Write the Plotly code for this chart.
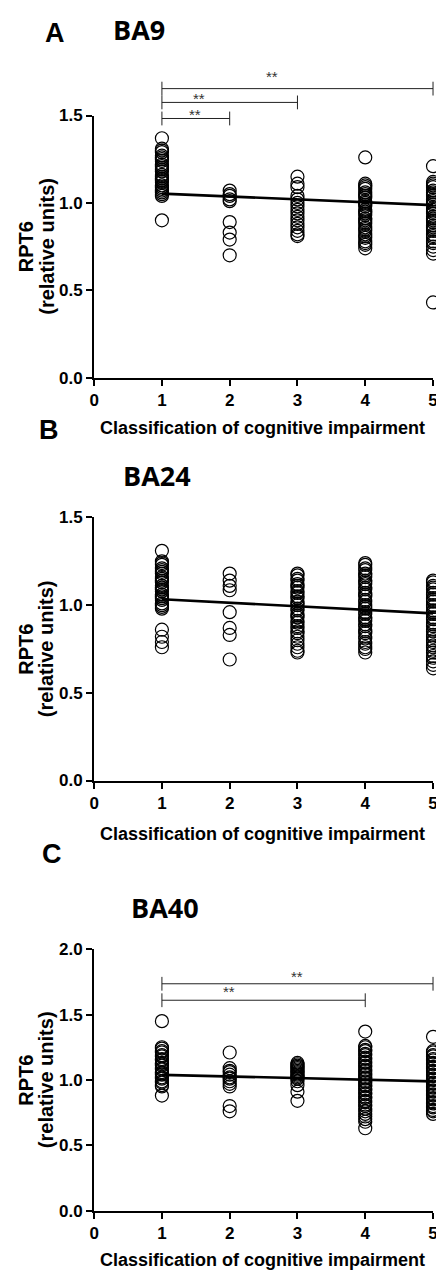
import plotly.graph_objects as go

# =====================
# data
# =====================
groups = [1, 2, 3, 4, 5]
fit_x = [1, 5]

# BA9
ba9_g1 = [1.37, 1.31, 1.30, 1.29, 1.27, 1.26, 1.25, 1.24, 1.22, 1.21, 1.20, 1.19,
          1.18, 1.16, 1.15, 1.14, 1.13, 1.12, 1.10, 1.09, 1.08, 1.07, 1.06, 1.05,
          1.04, 0.90]
ba9_g2 = [1.07, 1.05, 1.04, 1.02, 1.01, 0.89, 0.83, 0.79, 0.70]
ba9_g3 = [1.15, 1.11, 1.09, 1.04, 1.02, 1.00, 0.98, 0.96, 0.94, 0.92, 0.90, 0.88,
          0.86, 0.84, 0.82, 0.81]
ba9_g4 = [1.26, 1.11, 1.10, 1.09, 1.08, 1.06, 1.05, 1.04, 1.03, 1.01, 1.00, 0.99,
          0.98, 0.96, 0.95, 0.94, 0.93, 0.91, 0.90, 0.89, 0.88, 0.86, 0.85, 0.84,
          0.82, 0.81, 0.80, 0.78, 0.77, 0.76, 0.74]
ba9_g5 = [1.21, 1.12, 1.11, 1.10, 1.09, 1.07, 1.06, 1.05, 1.04, 1.02, 1.01, 1.00,
          0.99, 0.97, 0.96, 0.95, 0.94, 0.92, 0.91, 0.90, 0.89, 0.87, 0.86, 0.85,
          0.84, 0.82, 0.81, 0.80, 0.78, 0.77, 0.75, 0.73, 0.71, 0.43]
ba9_fit = [1.053, 0.987]
ba9_sig_end = [5, 3, 2]
ba9_sig_y = [1.654, 1.575, 1.483]
ba9_star_x = [2.63, 1.54, 1.49]
ba9_star_y = [1.726, 1.598, 1.506]

# BA24
ba24_g1 = [1.31, 1.25, 1.24, 1.23, 1.21, 1.20, 1.19, 1.18, 1.16, 1.15, 1.14, 1.13,
           1.11, 1.10, 1.09, 1.08, 1.06, 1.05, 1.04, 1.03, 1.01, 1.00, 0.99, 0.98,
           0.86, 0.82, 0.79, 0.76]
ba24_g2 = [1.18, 1.14, 1.11, 1.085, 0.96, 0.87, 0.83, 0.69]
ba24_g3 = [1.18, 1.17, 1.15, 1.14, 1.12, 1.11, 1.10, 1.08, 1.07, 1.05, 1.04, 1.02,
           1.01, 1.00, 0.98, 0.97, 0.95, 0.94, 0.93, 0.91, 0.90, 0.88, 0.87, 0.85,
           0.84, 0.82, 0.80, 0.78, 0.76, 0.74, 0.73]
ba24_g4 = [1.24, 1.23, 1.21, 1.20, 1.18, 1.17, 1.16, 1.14, 1.13, 1.12, 1.10, 1.09,
           1.07, 1.06, 1.05, 1.03, 1.02, 1.00, 0.99, 0.98, 0.96, 0.95, 0.93, 0.92,
           0.91, 0.89, 0.88, 0.86, 0.85, 0.84, 0.82, 0.81, 0.79, 0.78, 0.76, 0.75,
           0.73]
ba24_g5 = [1.14, 1.13, 1.11, 1.10, 1.09, 1.07, 1.06, 1.04, 1.03, 1.02, 1.00, 0.99,
           0.97, 0.96, 0.95, 0.93, 0.92, 0.90, 0.89, 0.88, 0.86, 0.85, 0.83, 0.82,
           0.80, 0.79, 0.77, 0.76, 0.74, 0.73, 0.71, 0.70, 0.68, 0.66, 0.64]
ba24_fit = [1.034, 0.953]

# BA40
ba40_g1 = [1.45, 1.25, 1.24, 1.22, 1.21, 1.19, 1.18, 1.16, 1.15, 1.13, 1.12, 1.11,
           1.09, 1.08, 1.06, 1.05, 1.04, 1.02, 1.01, 0.99, 0.98, 0.96, 0.95, 0.88]
ba40_g2 = [1.21, 1.09, 1.07, 1.06, 1.04, 1.02, 1.01, 0.99, 0.97, 0.95, 0.80, 0.76]
ba40_g3 = [1.13, 1.12, 1.11, 1.10, 1.09, 1.08, 1.07, 1.06, 1.05, 1.04, 1.03, 1.02,
           1.01, 0.99, 0.96, 0.91, 0.84]
ba40_g4 = [1.37, 1.26, 1.25, 1.23, 1.22, 1.20, 1.19, 1.17, 1.16, 1.14, 1.13, 1.11,
           1.10, 1.08, 1.07, 1.05, 1.04, 1.02, 1.01, 0.99, 0.98, 0.96, 0.95, 0.93,
           0.92, 0.90, 0.89, 0.87, 0.86, 0.84, 0.83, 0.81, 0.80, 0.78, 0.76, 0.74,
           0.72, 0.70, 0.68, 0.63]
ba40_g5 = [1.33, 1.22, 1.21, 1.19, 1.18, 1.16, 1.15, 1.13, 1.12, 1.10, 1.09, 1.07,
           1.06, 1.04, 1.03, 1.01, 1.00, 0.98, 0.97, 0.95, 0.94, 0.92, 0.91, 0.89,
           0.88, 0.86, 0.85, 0.83, 0.82, 0.80, 0.79, 0.77, 0.76, 0.74]
ba40_fit = [1.039, 0.989]
ba40_sig_end = [5, 4]
ba40_sig_y = [1.736, 1.61]
ba40_star_x = [2.99, 1.99]
ba40_star_y = [1.793, 1.68]

x_title = "Classification of cognitive impairment"
y_title_1 = "RPT6"
y_title_2 = "(relative units)"

# =====================
# layout helpers (page pixel -> paper)
# =====================
W, H = 444, 1283
PAGE_OFFSET = 8  # default body margin of the html page
AXIS_FONT = "Liberation Sans, Arial, sans-serif"
TITLE_FONT = "Open Sans, sans-serif"


def fx(p):
    return (p - PAGE_OFFSET) / W


def fy(p):
    return 1 - (p - PAGE_OFFSET) / H


fig = go.Figure()


def add_panel(n, cols, fit, ymax, ytop_px, y0_px, letter, letter_xy, name, name_xy,
              xt_y, sig=None):
    xa = "x" if n == 1 else f"x{n}"
    ya = "y" if n == 1 else f"y{n}"

    for g, vals in zip(groups, cols):
        fig.add_scatter(
            x=[g] * len(vals), y=vals, xaxis=xa, yaxis=ya,
            mode="markers", cliponaxis=False, showlegend=False,
            marker=dict(symbol="circle-open", size=13, color="black",
                        line=dict(width=1.2, color="black")),
        )
    fig.add_scatter(
        x=fit_x, y=fit, xaxis=xa, yaxis=ya, mode="lines", showlegend=False,
        cliponaxis=False, line=dict(color="black", width=2.6),
    )

    axis_common = dict(
        showline=True, linewidth=2, linecolor="black", mirror=False,
        ticks="outside", ticklen=6, tickwidth=2, tickcolor="black",
        showgrid=False, zeroline=False, ticklabeloverflow="allow",
        tickfont=dict(family=AXIS_FONT, size=17, color="black", weight="bold"),
    )
    xkey = "xaxis" if n == 1 else f"xaxis{n}"
    ykey = "yaxis" if n == 1 else f"yaxis{n}"
    fig.update_layout({
        xkey: dict(axis_common, range=[0, 5], tickvals=[0, 1, 2, 3, 4, 5],
                   domain=[fx(91), fx(437.7)], anchor=ya),
        ykey: dict(axis_common, range=[0, ymax],
                   tickvals=[i * 0.5 for i in range(int(ymax / 0.5) + 1)],
                   tickformat=".1f", domain=[fy(y0_px), fy(ytop_px)], anchor=xa),
    })

    # panel letter and region title
    fig.add_annotation(text=f"<b>{letter}</b>", xref="paper", yref="paper",
                       x=fx(letter_xy[0]), y=fy(letter_xy[1]), showarrow=False,
                       xanchor="center", yanchor="middle",
                       font=dict(family=AXIS_FONT, size=27, color="black"))
    fig.add_annotation(text=f"<b>{name}</b>", xref="paper", yref="paper",
                       x=fx(name_xy[0]), y=fy(name_xy[1]), showarrow=False,
                       xanchor="center", yanchor="middle",
                       font=dict(family=TITLE_FONT, size=27, color="black"))

    # axis titles
    fig.add_annotation(text=f"<b>{x_title}</b>", xref="paper", yref="paper",
                       x=fx(263), y=fy(xt_y), showarrow=False,
                       xanchor="center", yanchor="middle",
                       font=dict(family=AXIS_FONT, size=18, color="black"))
    ymid = (ytop_px + y0_px) / 2
    for txt, xp in [(y_title_1, 21), (y_title_2, 42)]:
        fig.add_annotation(text=f"<b>{txt}</b>", xref="paper", yref="paper",
                           x=fx(xp), y=fy(ymid), showarrow=False, textangle=-90,
                           xanchor="center", yanchor="middle",
                           font=dict(family=AXIS_FONT, size=20, color="black"))

    # significance brackets
    if sig:
        ends, heights, sx, sy = sig
        half = 7 / (y0_px - ytop_px)  # end-tick half height in domain units
        for e, h in zip(ends, heights):
            hd = h / ymax
            line = dict(color="#222", width=1)
            fig.add_shape(type="line", xref=f"{xa} domain", yref=f"{ya} domain",
                          x0=1 / 5, x1=e / 5, y0=hd, y1=hd, line=line)
            for xe in (1, e):
                fig.add_shape(type="line", xref=f"{xa} domain", yref=f"{ya} domain",
                              x0=xe / 5, x1=xe / 5, y0=hd - half, y1=hd + half,
                              line=line)
        for x_, y_ in zip(sx, sy):
            fig.add_annotation(text="**", xref=f"{xa} domain", yref=f"{ya} domain",
                               x=x_ / 5, y=y_ / ymax, showarrow=False,
                               xanchor="center", yanchor="middle",
                               font=dict(family=AXIS_FONT, size=15, color="#333"))


add_panel(1, [ba9_g1, ba9_g2, ba9_g3, ba9_g4, ba9_g5], ba9_fit, 1.5, 108, 374,
          "A", (51, 24), "BA9", (137, 21), 425,
          sig=(ba9_sig_end, ba9_sig_y, ba9_star_x, ba9_star_y))
add_panel(2, [ba24_g1, ba24_g2, ba24_g3, ba24_g4, ba24_g5], ba24_fit, 1.5, 516, 783,
          "B", (45, 427), "BA24", (155, 473), 837)
add_panel(3, [ba40_g1, ba40_g2, ba40_g3, ba40_g4, ba40_g5], ba40_fit, 2.0, 954.3, 1219.5,
          "C", (48, 858), "BA40", (163, 912), 1270,
          sig=(ba40_sig_end, ba40_sig_y, ba40_star_x, ba40_star_y))

fig.update_layout(
    width=W, height=H,
    margin=dict(l=0, r=0, t=0, b=0),
    paper_bgcolor="white", plot_bgcolor="white",
    showlegend=False,
)

fig.write_html("out.html")
